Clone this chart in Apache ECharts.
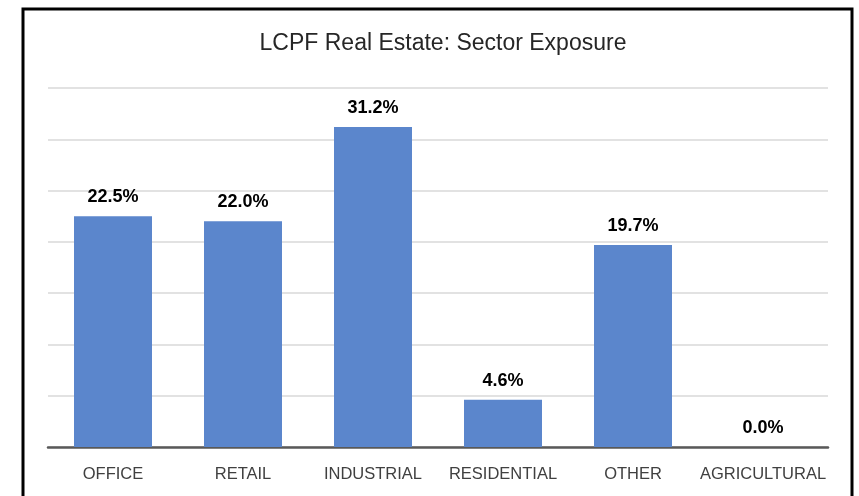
<!DOCTYPE html>
<html lang="en">
<head>
    <meta charset="utf-8">
    <title>LCPF Real Estate: Sector Exposure</title>
    <style>
        html, body { margin: 0; padding: 0; background: #fff; }
        #id-main-area { width: 859px; height: 496px; }
    </style>
</head>
<body>
    <div id="id-main-area"></div>
    <script src="https://cdn.jsdelivr.net/npm/echarts@6/dist/echarts.min.js"></script>
    <script>
        var sectors = ['OFFICE', 'RETAIL', 'INDUSTRIAL', 'RESIDENTIAL', 'OTHER', 'AGRICULTURAL']
        var exposure = [22.5, 22.0, 31.2, 4.6, 19.7, 0.0]
        var axisMax = 35
        var axisStep = 5

        var showChart = () => {
            var element = document.querySelector('#id-main-area')
            var myChart = echarts.init(element)
            var option = {
                animation: false,
                backgroundColor: '#fff',
                title: {
                    text: 'LCPF Real Estate: Sector Exposure',
                    left: 438,
                    textAlign: 'center',
                    top: 27,
                    textStyle: {
                        fontFamily: 'Liberation Sans',
                        fontSize: 23,
                        fontWeight: 'normal',
                        color: '#262626',
                    },
                },
                graphic: [
                    {
                        type: 'rect',
                        shape: { x: 23, y: 9, width: 829, height: 520 },
                        style: { fill: 'none', stroke: '#000', lineWidth: 3 },
                        silent: true,
                    },
                ],
                grid: {
                    left: 48,
                    right: 31,
                    top: 88,
                    bottom: 49,
                },
                xAxis: {
                    type: 'category',
                    data: sectors,
                    axisTick: { show: false },
                    axisLine: { lineStyle: { color: '#595959', width: 2.5 } },
                    axisLabel: {
                        interval: 0,
                        margin: 19,
                        fontFamily: 'Liberation Sans',
                        fontSize: 16.5,
                        color: '#404040',
                    },
                },
                yAxis: {
                    type: 'value',
                    min: 0,
                    max: axisMax,
                    interval: axisStep,
                    axisLabel: { show: false },
                    axisLine: { show: false },
                    axisTick: { show: false },
                    splitLine: { lineStyle: { color: '#d9d9d9', width: 1.5 } },
                },
                series: [
                    {
                        type: 'bar',
                        data: exposure,
                        barWidth: '60%',
                        itemStyle: {
                            color: '#5b86cc',
                        },
                        label: {
                            show: true,
                            position: 'top',
                            distance: 10,
                            formatter: (p) => p.value.toFixed(1) + '%',
                            fontFamily: 'Liberation Sans',
                            fontSize: 18,
                            fontWeight: 'bold',
                            color: '#000',
                        },
                    },
                ],
            }
            myChart.setOption(option, true)
        }

        showChart()
    </script>
</body>
</html>
